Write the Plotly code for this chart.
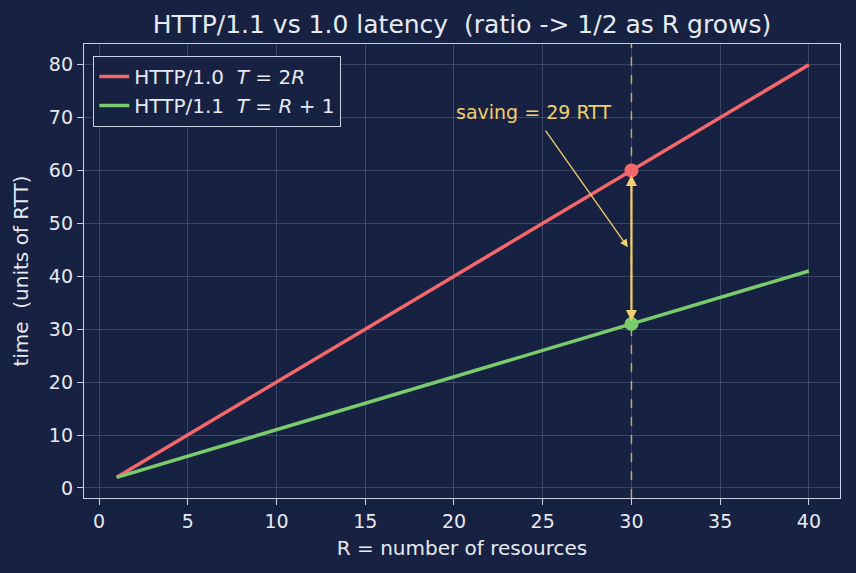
import plotly.graph_objects as go

R_vals = [1, 40]
T_http10 = [2, 80]
T_http11 = [2, 41]
R_mark = 30
T10_mark = 60
T11_mark = 31
saving_label = "saving = 29 RTT"

BG = "#172142"
FG = "#e6eaf2"
SPINE = "#c9d1e3"
RED = "#f4686c"
GREEN = "#7acb6b"
YEL = "#f3cf6a"
FONT = "DejaVu Sans"

fig = go.Figure()
fig.add_trace(go.Scatter(x=R_vals, y=T_http10, mode="lines",
                         line=dict(color=RED, width=3.5),
                         name="HTTP/1.0  <i>T</i> = 2<i>R</i>"))
fig.add_trace(go.Scatter(x=R_vals, y=T_http11, mode="lines",
                         line=dict(color=GREEN, width=3.5),
                         name="HTTP/1.1  <i>T</i> = <i>R</i> + 1"))
fig.add_trace(go.Scatter(x=[R_mark], y=[T10_mark], mode="markers",
                         marker=dict(color=RED, size=14), showlegend=False))
fig.add_trace(go.Scatter(x=[R_mark], y=[T11_mark], mode="markers",
                         marker=dict(color=GREEN, size=14), showlegend=False))

fig.add_shape(type="line", xref="x", yref="paper", x0=R_mark, x1=R_mark, y0=0, y1=1,
              line=dict(color="rgba(243,207,106,0.75)", width=1.5, dash="dash"), layer="below")

# double arrow
fig.add_annotation(x=R_mark, y=T11_mark, ax=R_mark, ay=T10_mark, xref="x", yref="y",
                   axref="x", ayref="y", text="", showarrow=True, arrowhead=2,
                   startarrowhead=2, arrowside="end+start", arrowwidth=2.2, arrowsize=1,
                   startarrowsize=1, arrowcolor=YEL, standoff=3, startstandoff=3)
# pointer arrow
fig.add_annotation(x=29.8, y=45.5, ax=25.1, ay=67.8, xref="x", yref="y",
                   axref="x", ayref="y", text="", showarrow=True, arrowhead=2,
                   arrowwidth=1.3, arrowsize=1.2, arrowcolor=YEL)
fig.add_annotation(x=20, y=70, xref="x", yref="y", text=saving_label, showarrow=False,
                   xanchor="left", yanchor="bottom", yshift=-7,
                   font=dict(color=YEL, size=19, family=FONT))

axis_common = dict(showline=True, linecolor=SPINE, linewidth=1.3, mirror=True,
                   ticks="outside", ticklen=6, tickcolor=SPINE, tickwidth=1.3,
                   gridcolor="rgba(200,210,235,0.2)", gridwidth=1, zeroline=False,
                   tickfont=dict(color=FG, size=19, family=FONT),
                   title_font=dict(color=FG, size=20, family=FONT))
fig.update_xaxes(range=[-0.845, 41.75], tickvals=list(range(0, 41, 5)),
                 title_text="R = number of resources", title_standoff=10, **axis_common)
fig.update_yaxes(range=[-1.9, 83.9], tickvals=list(range(0, 81, 10)),
                 title_text="time  (units of RTT)", title_standoff=14, **axis_common)

fig.update_layout(
    width=856, height=573,
    margin=dict(l=84, r=16, t=44, b=75),
    paper_bgcolor=BG, plot_bgcolor=BG,
    font=dict(family=FONT, color=FG),
    title=dict(text="HTTP/1.1 vs 1.0 latency  (ratio -> 1/2 as R grows)",
               x=462 / 856, xanchor="center", y=1 - 24 / 573, yanchor="middle",
               font=dict(size=25, color=FG, family=FONT)),
    legend=dict(x=0.012, y=0.974, xanchor="left", yanchor="top",
                bgcolor=BG, bordercolor=SPINE, borderwidth=1.2,
                font=dict(size=20, color=FG, family=FONT)),
    showlegend=True,
)

fig.write_html("out.html")
